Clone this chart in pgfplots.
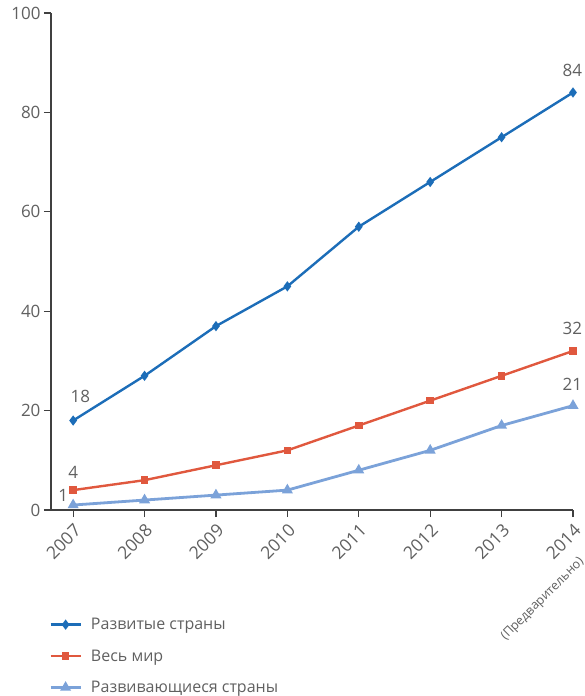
\documentclass[border=0pt]{standalone}
\usepackage{pgfplots}
\pgfplotsset{compat=1.18}
\usepackage{fontspec}
\setmainfont{Open Sans}
\definecolor{dev}{HTML}{1C6DB8}
\definecolor{world}{HTML}{E0583E}
\definecolor{devg}{HTML}{7BA2D9}
\definecolor{txt}{HTML}{606060}
\definecolor{axc}{HTML}{404040}
\begin{document}
\begin{tikzpicture}
\begin{axis}[
  scale only axis,
  width=522pt, height=497pt,
  xmin=-0.31, xmax=7, ymin=0, ymax=100,
  axis x line=bottom, axis y line=left,
  axis line style={-, draw=axc, line width=1.2pt},
  tick style={draw=axc, line width=1.2pt},
  tick align=outside,
  major tick length=7pt,
  xtick={0,...,7},
  xticklabels={2007,2008,2009,2010,2011,2012,2013,2014},
  ytick={0,20,...,100},
  x tick label style={rotate=45, anchor=north east, font=\fontsize{17.5}{20}\selectfont, text=txt, inner sep=4pt},
  y tick label style={font=\fontsize{17}{20}\selectfont, text=txt},
  /pgf/number format/assume math mode=true,
  clip=false,
  legend style={at={(axis description cs:0,0)}, anchor=north west, yshift=-104pt, xshift=-5pt,
    draw=none, fill=none, font=\fontsize{16}{19}\selectfont, text=txt, row sep=14.5pt, cells={anchor=west}},
  legend cell align=left,
  legend image code/.code={\draw[mark repeat=2,mark phase=2] plot coordinates {(0pt,0pt) (15pt,0pt) (30pt,0pt)};\path (37pt,0pt);},
]
\addplot[dev, line width=2.4pt, mark=diamond*, mark size=3.2pt] coordinates {
(0,18) (1,27) (2,37) (3,45) (4,57) (5,66) (6,75) (7,84)};
\addlegendentry{Развитые страны}
\addplot[world, line width=2.4pt, mark=square*, mark size=2.6pt] coordinates {
(0,4) (1,6) (2,9) (3,12) (4,17) (5,22) (6,27) (7,32)};
\addlegendentry{Весь мир}
\addplot[devg, line width=2.8pt, mark=triangle*, mark size=3.6pt] coordinates {
(0,1) (1,2) (2,3) (3,4) (4,8) (5,12) (6,17) (7,21)};
\addlegendentry{Развивающиеся страны}
\begin{scope}[every node/.style={font=\fontsize{17}{20}\selectfont, text=txt}]
\node at (axis cs:0.1,22.8) {18};
\node at (axis cs:0,7.6) {4};
\node at (axis cs:-0.14,3.0) {1};
\node at (axis cs:6.99,88.5) {84};
\node at (axis cs:6.99,36.6) {32};
\node at (axis cs:6.99,25.2) {21};
\end{scope}
\node[rotate=45, anchor=east, font=\fontsize{12.5}{15}\selectfont, text=txt, inner sep=0pt] at ([xshift=9pt, yshift=-50pt]axis cs:7,0) {(Предварительно)};
\end{axis}
\pgfresetboundingbox
\path[use as bounding box] (-51pt,-186pt) rectangle (534pt,510pt);
\end{tikzpicture}
\end{document}
